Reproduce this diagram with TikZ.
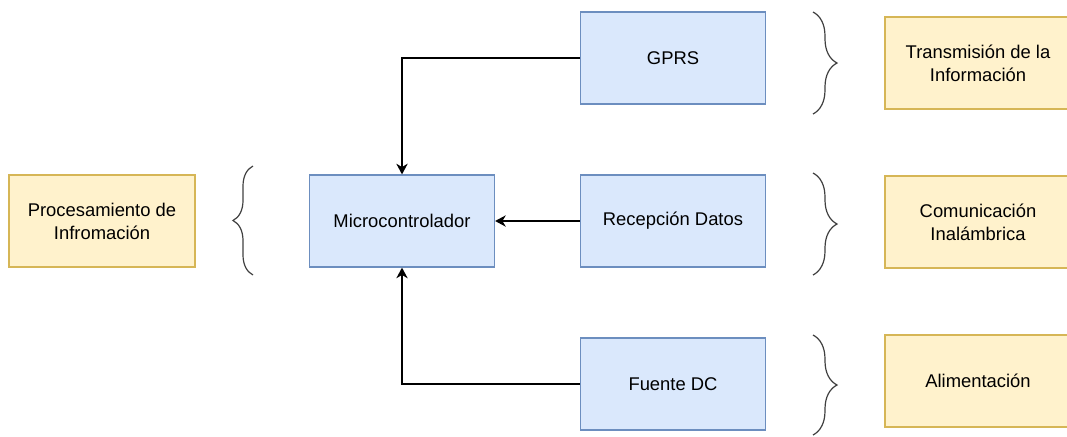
\documentclass[tikz,border=0pt]{standalone}
\usepackage{fontspec}
\setmainfont{Liberation Sans}
\usetikzlibrary{arrows.meta,decorations.pathreplacing}
\definecolor{bloquefill}{HTML}{DAE8FC}
\definecolor{bloqueline}{HTML}{6C8EBF}
\definecolor{etapafill}{HTML}{FFF2CC}
\definecolor{etapaline}{HTML}{D6B656}
\tikzset{
  bloque/.style={draw=bloqueline, fill=bloquefill, line width=0.9pt,
    minimum width=138.75pt, minimum height=69pt, align=center,
    font=\fontsize{13.8}{17.2}\selectfont},
  etapa/.style={draw=etapaline, fill=etapafill, line width=0.9pt,
    minimum width=139.5pt, minimum height=69pt, align=center,
    font=\fontsize{13.8}{17.2}\selectfont},
  flecha/.style={line width=1pt, -{Stealth[length=8pt,width=8.5pt,inset=2.5pt]}},
  llave/.style={line width=0.9pt, draw=black!75, decorate}
}
\begin{document}
\begin{tikzpicture}[x=0.75pt,y=-0.75pt]
    \useasboundingbox (0,0) rectangle (1067,436);
    % bloques
    \node[bloque] (gprs) at (673,58) {GPRS};
    \node[bloque] (micro) at (402,221) {Microcontrolador};
    \node[bloque] (recep) at (673,221) {Recepción Datos};
    \node[bloque] (fuente) at (673,384) {Fuente DC};
    % etapas
    \node[etapa] (proc) at (102,221) {Procesamiento de\\Infromación};
    \node[etapa] (trans) at (978,63) {Transmisión de la\\Información};
    \node[etapa] (comun) at (978,222) {Comunicación\\Inalámbrica};
    \node[etapa] (alim) at (978,381) {Alimentación};
    % conexiones
    \draw[flecha] (gprs.west) -| (micro.north);
    \draw[flecha] (recep.west) -- (micro.east);
    \draw[flecha] (fuente.west) -| (micro.south);
    % llaves
    \draw[llave, decoration={brace, amplitude=15pt}] (253,275) -- (253,166);
    \draw[llave, decoration={brace, amplitude=18pt}] (813,12) -- (813,114);
    \draw[llave, decoration={brace, amplitude=18pt}] (813,173) -- (813,275);
    \draw[llave, decoration={brace, amplitude=18pt}] (813,335) -- (813,435);
\end{tikzpicture}
\end{document}
